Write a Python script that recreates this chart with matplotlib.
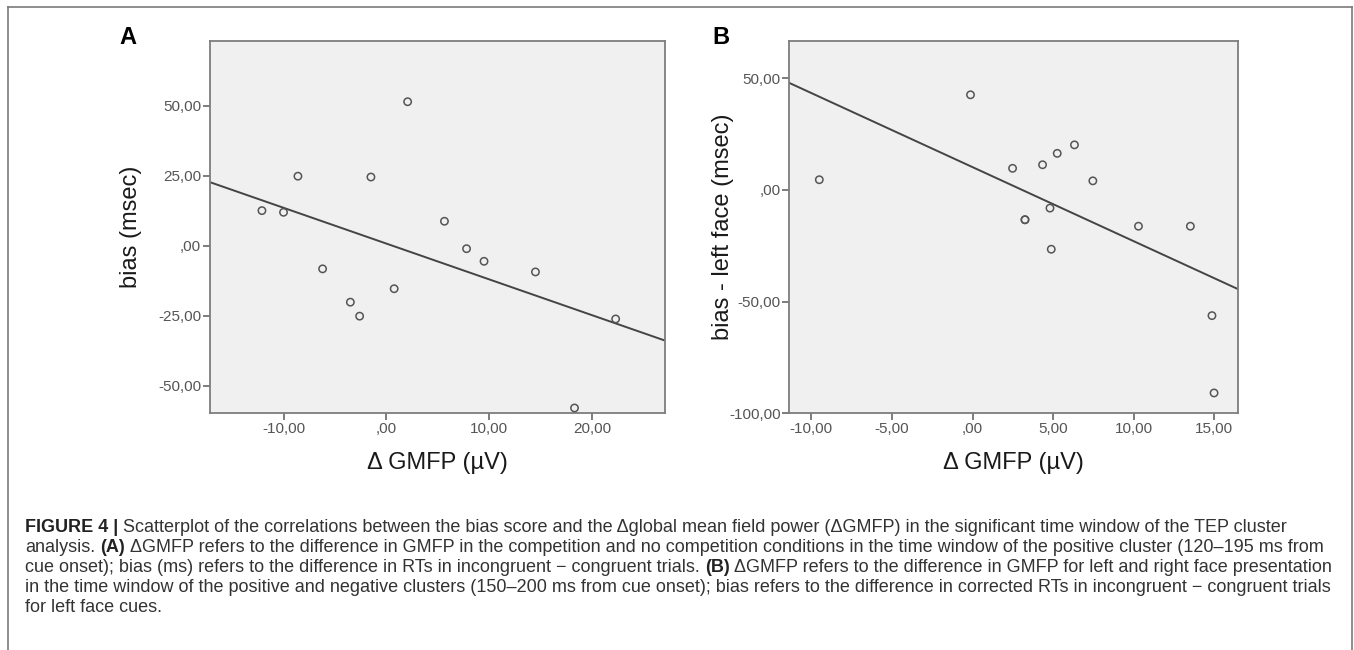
import numpy as np
import matplotlib
matplotlib.use("Agg")
import matplotlib.pyplot as plt
from matplotlib.lines import Line2D

# panel A: dGMFP vs bias
a_x = [-12.1, -10.0, -8.6, -6.2, -3.5, -2.6, -1.5, 0.76, 2.07, 5.65, 7.8, 9.5, 14.5, 18.3, 22.3]
a_y = [12.5, 11.9, 24.8, -8.3, -20.2, -25.2, 24.5, -15.4, 51.4, 8.7, -1.1, -5.6, -9.4, -58.0, -26.2]
a_xticks = [-10, 0, 10, 20]
a_xlabels = ["-10,00", ",00", "10,00", "20,00"]
a_yticks = [-50, -25, 0, 25, 50]
a_ylabels = ["-50,00", "-25,00", ",00", "25,00", "50,00"]

# panel B: dGMFP vs bias - left face
b_x = [-9.51, -0.13, 2.48, 3.25, 3.25, 4.34, 4.8, 4.88, 5.25, 6.32, 7.46, 10.29, 13.51, 14.85, 14.98]
b_y = [4.5, 42.5, 9.6, -13.4, -13.4, 11.2, -8.2, -26.6, 16.3, 20.1, 4.0, -16.3, -16.3, -56.3, -90.9]
b_xticks = [-10, -5, 0, 5, 10, 15]
b_xlabels = ["-10,00", "-5,00", ",00", "5,00", "10,00", "15,00"]
b_yticks = [-100, -50, 0, 50]
b_ylabels = ["-100,00", "-50,00", ",00", "50,00"]

caption = [
    [("FIGURE 4 |", True), ("Scatterplot of the correlations between the bias score and the \u0394global mean field power (\u0394GMFP) in the significant time window of the TEP cluster", False)],
    [("analysis.", False), ("(A)", True), ("\u0394GMFP refers to the difference in GMFP in the competition and no competition conditions in the time window of the positive cluster (120\u2013195 ms from", False)],
    [("cue onset); bias (ms) refers to the difference in RTs in incongruent \u2212 congruent trials.", False), ("(B)", True), ("\u0394GMFP refers to the difference in GMFP for left and right face presentation", False)],
    [("in the time window of the positive and negative clusters (150\u2013200 ms from cue onset); bias refers to the difference in corrected RTs in incongruent \u2212 congruent trials", False)],
    [("for left face cues.", False)],
]

W, H = 1354, 650
tick_font = ["Liberation Sans Narrow", "Liberation Sans", "DejaVu Sans"]
label_font = ["Liberation Sans", "DejaVu Sans"]

fig = plt.figure(figsize=(W / 100, H / 100), dpi=100)
fig.patch.set_facecolor("white")

# outer frame (bottom edge runs off the canvas)
for xs, ys in [([8, 8], [H, 7]), ([8, 1352], [7, 7]), ([1352, 1352], [7, H])]:
    fig.add_artist(Line2D([x / W for x in xs], [1 - y / H for y in ys],
                          color="#7a7a7a", lw=1.2))


def panel(rect, xs, ys, xlim, ylim, xt, xl, yt, yl, ylabel, letter, letter_xy, ylab_x):
    l, t, r, b = rect
    ax = fig.add_axes([l / W, 1 - b / H, (r - l) / W, (b - t) / H])
    ax.set_facecolor("#f0f0f0")
    ax.scatter(xs, ys, s=28, facecolors="none", edgecolors="#555555", linewidths=1.1, zorder=3)
    k, c = np.polyfit(xs, ys, 1)
    lx = np.array(xlim)
    ax.plot(lx, k * lx + c, color="#444444", lw=1.4, zorder=2)
    ax.set_xlim(xlim)
    ax.set_ylim(ylim)
    ax.set_xticks(xt)
    ax.set_xticklabels(xl)
    ax.set_yticks(yt)
    ax.set_yticklabels(yl)
    for sp in ax.spines.values():
        sp.set_color("#7d7d7d")
        sp.set_linewidth(1.3)
    ax.tick_params(direction="out", length=5, width=1.2, color="#666666",
                   labelcolor="#555555", labelsize=11, pad=1)
    for lab in ax.get_xticklabels() + ax.get_yticklabels():
        lab.set_family(tick_font)
    ax.set_xlabel("\u0394 GMFP (\u00b5V)", fontsize=17, family=label_font, color="#1a1a1a", labelpad=12)
    ax.set_ylabel(ylabel, fontsize=17, family=label_font, color="#1a1a1a")
    # label coords give the right edge of the rotated label
    ax.yaxis.set_label_coords((ylab_x + 12 - l) / (r - l), 0.5)
    fig.text(letter_xy[0] / W, 1 - letter_xy[1] / H, letter, fontsize=17, fontweight="heavy",
             family=label_font, ha="center", va="center")
    return ax


ax_a = panel((209.5, 40.7, 665, 413.3), a_x, a_y, (-17.2, 27.1), (-59.9, 73.2),
             a_xticks, a_xlabels, a_yticks, a_ylabels, "bias (msec)", "A", (128, 38), 130)
ax_b = panel((789, 40.7, 1237.6, 413.3), b_x, b_y, (-11.39, 16.44), (-100, 66.7),
             b_xticks, b_xlabels, b_yticks, b_ylabels, "bias - left face (msec)", "B", (721, 38), 722)

# caption with bold pieces
r = fig.canvas.get_renderer()
cap_size = 13.0


def width(s, bold):
    t = fig.text(0, 0, s, fontsize=cap_size, family=label_font,
                 fontweight="bold" if bold else "normal")
    w = t.get_window_extent(r).width
    t.remove()
    return w


space = width("x x", False) - width("xx", False)
line_y = [528, 548, 568, 588, 608]
for segs, y in zip(caption, line_y):
    x = 25
    for s, bold in segs:
        t = fig.text(x / W, 1 - y / H, s, fontsize=cap_size, family=label_font,
                     fontweight="bold" if bold else "normal",
                     color="#222222" if bold else "#333333", va="center", ha="left")
        x += t.get_window_extent(r).width + space

fig.savefig("out.png", dpi=100, facecolor="white")
